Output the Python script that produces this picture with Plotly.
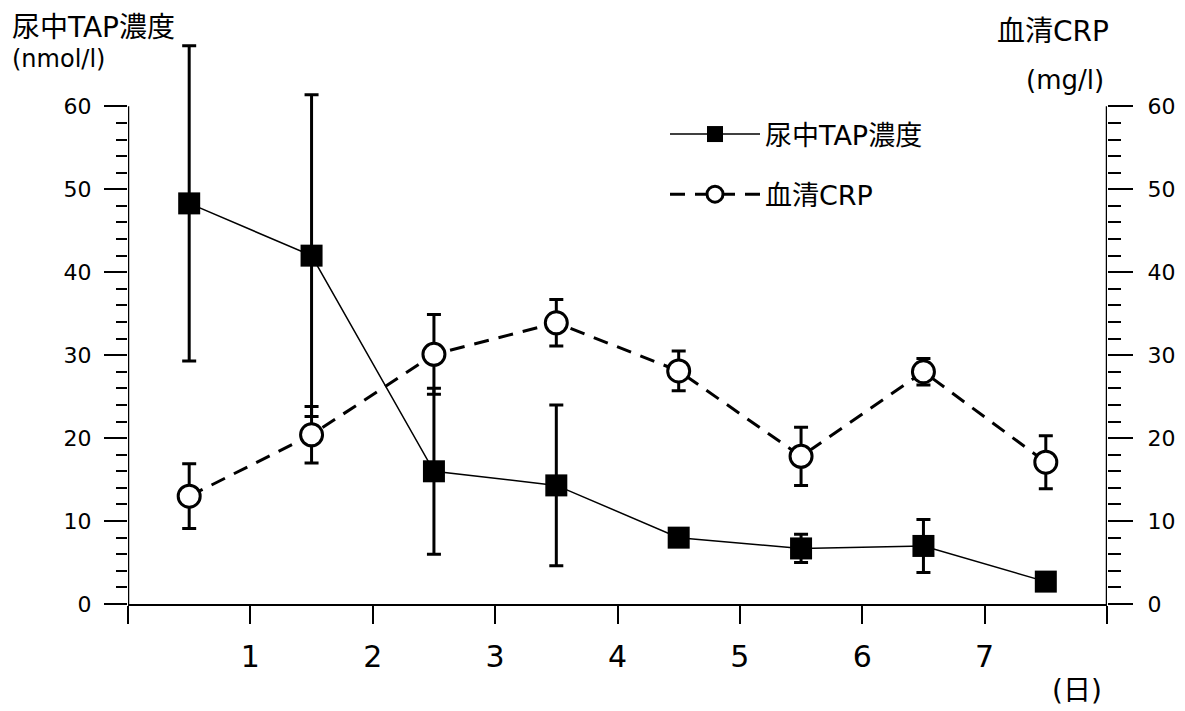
import plotly.graph_objects as go

# Data
days = [0.5, 1.5, 2.5, 3.5, 4.5, 5.5, 6.5, 7.5]
tap_values = [48.3, 42.0, 16.0, 14.3, 8.0, 6.7, 7.0, 2.7]
tap_errors = [19.0, 19.4, 10.0, 9.7, 0.8, 1.7, 3.2, 0.8]
crp_values = [13.0, 20.4, 30.1, 33.9, 28.1, 17.8, 28.0, 17.1]
crp_errors = [3.9, 3.4, 4.8, 2.8, 2.4, 3.5, 1.6, 3.2]

x_tick_vals = [0, 1, 2, 3, 4, 5, 6, 7, 8]
x_tick_text = ["", "1", "2", "3", "4", "5", "6", "7", ""]
y_tick_vals = [0, 10, 20, 30, 40, 50, 60]
y_minor_vals = [v for v in range(2, 60, 2) if v % 10 != 0]

FONT = "DejaVu Sans, Noto Sans CJK JP, sans-serif"

fig = go.Figure()

fig.add_trace(go.Scatter(
    x=days, y=tap_values, name="尿中TAP濃度",
    mode="lines+markers",
    line=dict(color="black", width=1.5),
    marker=dict(symbol="square", size=22, color="black"),
    error_y=dict(type="data", array=tap_errors, visible=True,
                 color="black", thickness=3, width=7),
    legendgroup="a", cliponaxis=False,
))

fig.add_trace(go.Scatter(
    x=days, y=crp_values, name="血清CRP",
    mode="lines+markers", yaxis="y2",
    line=dict(color="black", width=3, dash="15px,10px"),
    marker=dict(symbol="circle", size=22, color="white",
                line=dict(color="black", width=3)),
    error_y=dict(type="data", array=crp_errors, visible=True,
                 color="black", thickness=3, width=7),
    legendgroup="b", cliponaxis=False,
))

OFF = 8  # page body margin
W, H = 1185, 711
L = 128 - OFF
T = 40 - OFF
R = W - (1107 - OFF)
B = H - (604 - OFF)
pw = W - L - R
ph = H - T - B

def px_x(px):
    return (px - OFF - L) / pw

def px_y(py):
    return (H - B - (py - OFF)) / ph

fig.update_layout(
    width=W, height=H,
    margin=dict(l=L, r=R, t=T, b=B, pad=0),
    paper_bgcolor="white", plot_bgcolor="white",
    font=dict(family=FONT, color="black", size=21),
    showlegend=True,
    legend=dict(
        x=px_x(665), y=px_y(110), xanchor="left", yanchor="top",
        font=dict(size=27, family=FONT), bgcolor="rgba(0,0,0,0)",
        traceorder="grouped", tracegroupgap=22, itemwidth=90,
    ),
    xaxis=dict(
        range=[0, 8], tickvals=x_tick_vals, ticktext=x_tick_text,
        showgrid=False, zeroline=False, showline=True,
        linecolor="black", linewidth=2,
        ticks="outside", ticklen=18, tickwidth=2, tickcolor="black",
        tickfont=dict(size=30, family=FONT), ticklabelstandoff=7,
    ),
    yaxis=dict(
        range=[0, 68], tickvals=y_tick_vals,
        showgrid=False, zeroline=False, showline=False,
        ticks="outside", ticklen=23, tickwidth=1.5, tickcolor="black",
        tickfont=dict(size=22, family=FONT), ticklabelstandoff=8,
        minor=dict(tickvals=y_minor_vals, ticks="outside", ticklen=11,
                   tickwidth=1.5, tickcolor="black", showgrid=False),
    ),
    yaxis2=dict(
        range=[0, 68], tickvals=y_tick_vals, overlaying="y", side="right",
        showgrid=False, zeroline=False, showline=False,
        ticks="outside", ticklen=25, tickwidth=1.5, tickcolor="black",
        tickfont=dict(size=22, family=FONT), ticklabelstandoff=10,
        minor=dict(tickvals=y_minor_vals, ticks="outside", ticklen=13,
                   tickwidth=1.5, tickcolor="black", showgrid=False),
    ),
    shapes=[
        dict(type="line", xref="x", yref="y", x0=0, x1=0, y0=0, y1=60,
             line=dict(color="black", width=2.5)),
        dict(type="line", xref="x", yref="y", x0=8, x1=8, y0=0, y1=60,
             line=dict(color="black", width=2.5)),
    ],
    annotations=[
        dict(text="尿中TAP濃度", xref="paper", yref="paper",
             x=px_x(10), y=px_y(27), xanchor="left", yanchor="middle",
             showarrow=False, font=dict(size=28, family=FONT)),
        dict(text="(nmol/l)", xref="paper", yref="paper",
             x=px_x(10), y=px_y(59), xanchor="left", yanchor="middle",
             showarrow=False, font=dict(size=24, family=FONT)),
        dict(text="血清CRP", xref="paper", yref="paper",
             x=px_x(995), y=px_y(31), xanchor="left", yanchor="middle",
             showarrow=False, font=dict(size=28, family=FONT)),
        dict(text="(mg/l)", xref="paper", yref="paper",
             x=px_x(1024), y=px_y(80), xanchor="left", yanchor="middle",
             showarrow=False, font=dict(size=26, family=FONT)),
        dict(text="(日)", xref="paper", yref="paper",
             x=px_x(1050), y=px_y(690), xanchor="left", yanchor="middle",
             showarrow=False, font=dict(size=28, family=FONT)),
    ],
)

fig.write_html("out.html")
